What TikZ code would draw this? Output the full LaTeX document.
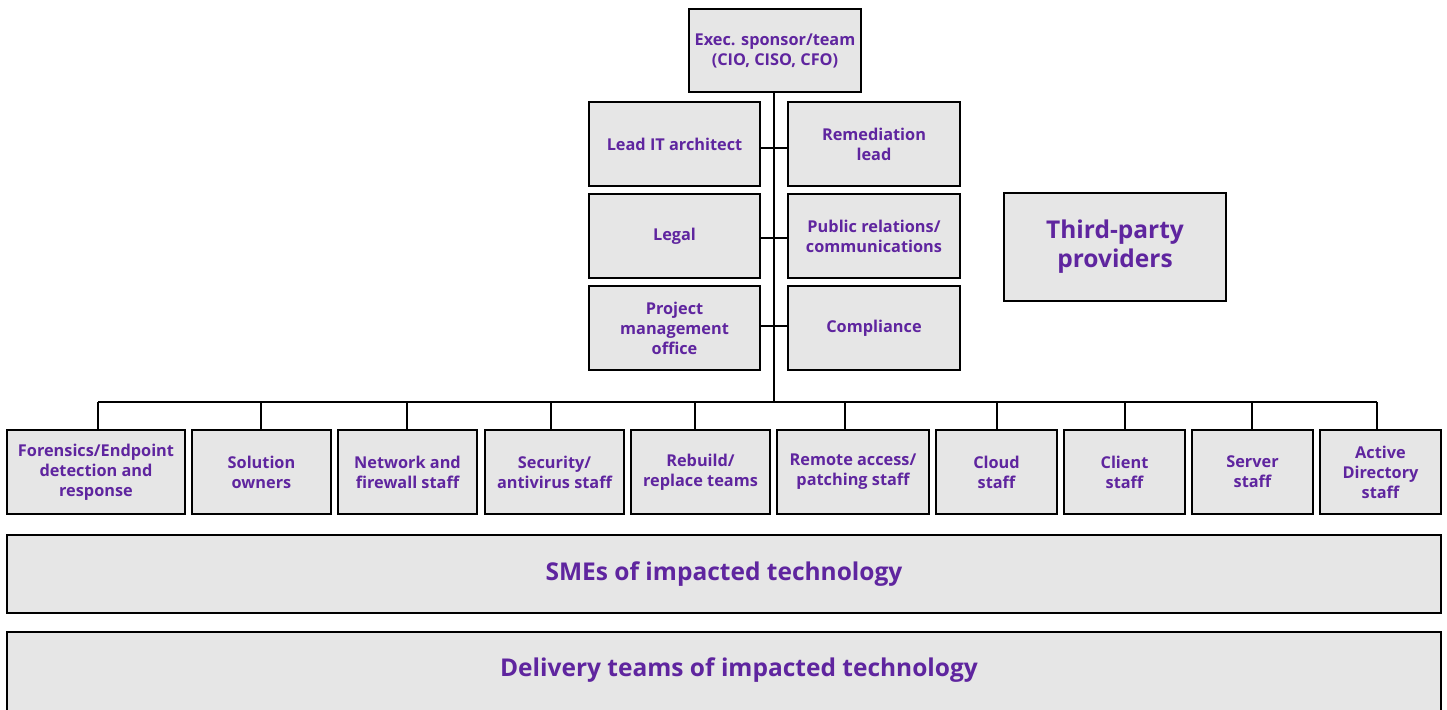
\documentclass[tikz,border=0pt]{standalone}
\usepackage{fontspec}
\setmainfont{Open Sans}
\definecolor{txtpurple}{HTML}{5F259F}
\definecolor{boxfill}{HTML}{E6E6E6}
\begin{document}
\begin{tikzpicture}[x=1pt,y=-1pt,
  box/.style={draw=black,line width=2.2pt,fill=boxfill,inner sep=0pt,align=center,
    text=txtpurple,font=\bfseries\fontsize{16.3}{20}\selectfont},
  bigbox/.style={box,font=\bfseries\fontsize{24.5}{29}\selectfont},
  bigtext/.style={inner sep=0pt,align=center,text=txtpurple,font=\bfseries\fontsize{24.5}{29}\selectfont},
  link/.style={line width=1.4pt,draw=black}]
\useasboundingbox (0,0) rectangle (1447,709);
\newcommand{\bx}[6]{\node[#1,minimum width=#4-#3,minimum height=#6-#5] (#2) at ({(#3+#4)/2},{(#5+#6)/2})}
% spine and links first (behind boxes)
\coordinate (top) at (774,92);
\coordinate (bar) at (774,402);
\draw[link] (top) -- (bar);
\draw[link] (98,402) -- (1377,402);
\foreach \x in {98,261,407,551,695,845,997,1125,1252,1377}{\draw[link] (\x,402) -- (\x,430);}
\draw[link] (760,148) -- (788,148);
\draw[link] (760,238) -- (788,238);
\draw[link] (760,326) -- (788,326);
% boxes
\bx{box}{exec}{689}{861}{9}{92} {Exec. sponsor/team\\(CIO, CISO, CFO)};
\bx{box}{lead}{589}{760}{102}{186} {Lead IT architect};
\bx{box}{rem}{788}{960}{102}{186} {Remediation\\lead};
\bx{box}{legal}{589}{760}{194}{278} {Legal};
\bx{box}{pr}{788}{960}{194}{278} {Public relations/\\communications};
\bx{box}{pmo}{589}{760}{286}{370} {Project\\management\\office};
\bx{box}{comp}{788}{960}{286}{370} {Compliance};
\bx{bigbox}{third}{1004}{1226}{193}{301} {Third-party\\providers};
\bx{box}{b1}{7}{185}{430}{514} {Forensics/Endpoint\\detection and\\response};
\bx{box}{b2}{192}{331}{430}{514} {Solution\\owners};
\bx{box}{b3}{338}{477}{430}{514} {Network and\\firewall staff};
\bx{box}{b4}{485}{624}{430}{514} {Security/\\antivirus staff};
\bx{box}{b5}{631}{770}{430}{514} {Rebuild/\\replace teams};
\bx{box}{b6}{777}{929}{430}{514} {Remote access/\\patching staff};
\bx{box}{b7}{936}{1057}{430}{514} {Cloud\\staff};
\bx{box}{b8}{1064}{1185}{430}{514} {Client\\staff};
\bx{box}{b9}{1192}{1313}{430}{514} {Server\\staff};
\bx{box}{b10}{1320}{1441}{430}{514} {Active\\Directory\\staff};
\bx{bigbox}{sme}{7}{1441}{535}{613} {SMEs of impacted technology};
\bx{box}{deliv}{7}{1441}{632}{716} {};
\node[bigtext] (delivtext) at (739,670) {Delivery teams of impacted technology};
\end{tikzpicture}
\end{document}
